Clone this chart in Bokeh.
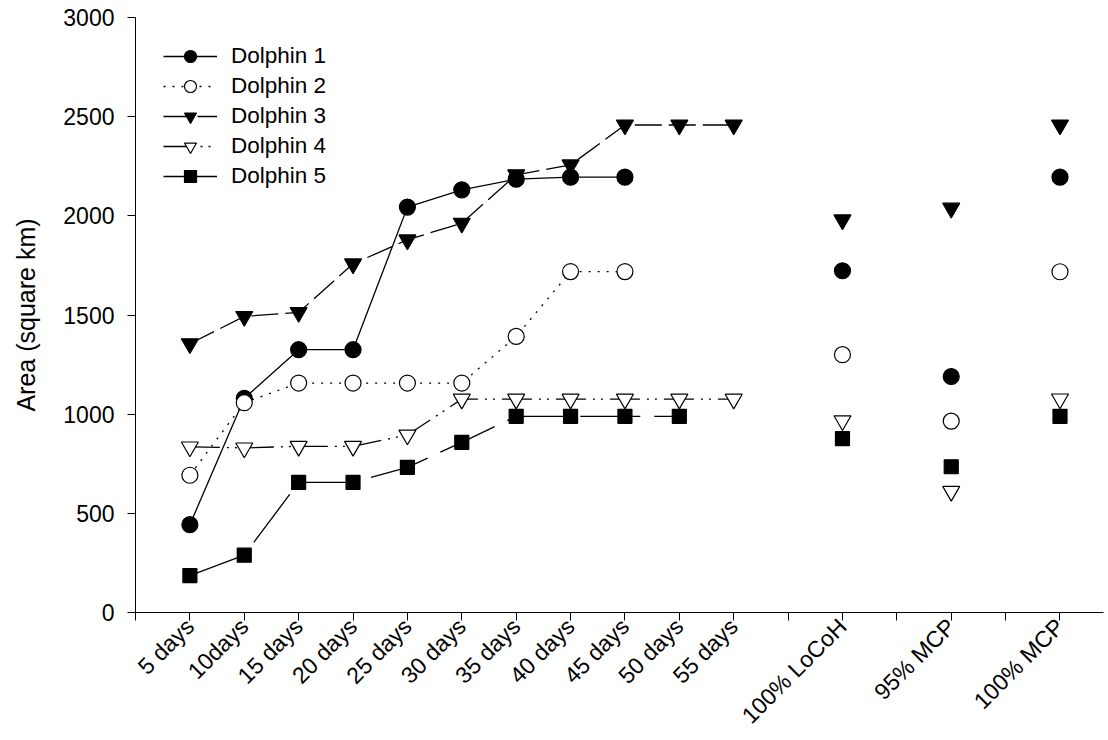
from bokeh.plotting import figure
from bokeh.models import Range1d, FixedTicker, Legend, LegendItem
from bokeh.embed import file_html
from bokeh.resources import INLINE

# ---- data ----
time_labels = ["5 days", "10days", "15 days", "20 days", "25 days", "30 days",
               "35 days", "40 days", "45 days", "50 days", "55 days"]
summary_labels = ["100% LoCoH", "95% MCP", "100% MCP"]

d1_time = [443, 1080, 1325, 1325, 2044, 2131, 2185, 2195, 2195]
d2_time = [692, 1058, 1157, 1157, 1157, 1157, 1392, 1719, 1719]
d3_time = [1355, 1493, 1513, 1758, 1879, 1963, 2207, 2257, 2458, 2458, 2458]
d4_time = [835, 830, 838, 838, 895, 1076, 1076, 1076, 1076, 1076, 1076]
d5_time = [186, 289, 656, 656, 732, 858, 989, 989, 989, 989]

d1_summary = [1723, 1190, 2195]
d2_summary = [1300, 965, 1718]
d3_summary = [1980, 2039, 2458]
d4_summary = [967, 611, 1077]
d5_summary = [877, 735, 989]

names = ["Dolphin 1", "Dolphin 2", "Dolphin 3", "Dolphin 4", "Dolphin 5"]
y_ticks = [0, 500, 1000, 1500, 2000, 2500, 3000]

# category positions: time points 0..10, summaries at 12, 14, 16
n_time = len(time_labels)
time_pos = list(range(n_time))
summary_pos = [n_time + 1 + 2 * j for j in range(len(summary_labels))]

FONT = "Liberation Sans"

p = figure(width=1106, height=740, output_backend="svg", toolbar_location=None,
           x_range=Range1d(-1, 16.8), y_range=Range1d(0, 3000),
           min_border_left=135, min_border_right=3, min_border_top=17,
           min_border_bottom=110)
p.outline_line_color = None
p.grid.visible = False
p.background_fill_color = "white"

# axes
all_ticks = list(range(-1, summary_pos[-1] + 1))
overrides = {}
for t in all_ticks:
    overrides[t] = ""
for i, lab in zip(time_pos, time_labels):
    overrides[i] = lab
for i, lab in zip(summary_pos, summary_labels):
    overrides[i] = lab
p.xaxis.ticker = FixedTicker(ticks=all_ticks)
p.xaxis.major_label_overrides = overrides
p.xaxis.major_label_orientation = 0.785398
p.yaxis.ticker = FixedTicker(ticks=y_ticks)
for ax in (p.xaxis, p.yaxis):
    ax.major_tick_in = 0
    ax.major_tick_out = 8
    ax.minor_tick_line_color = None
    ax.axis_line_color = "black"
    ax.major_tick_line_color = "black"
    ax.major_label_text_font = FONT
    ax.major_label_text_font_size = "23px"
    ax.major_label_text_color = "black"
p.xaxis.major_label_standoff = 2
p.yaxis.major_label_standoff = 13
p.yaxis.axis_label = "Area (square km)"
p.yaxis.axis_label_text_font = FONT
p.yaxis.axis_label_text_font_size = "25px"
p.yaxis.axis_label_text_font_style = "normal"
p.yaxis.axis_label_text_color = "black"
p.yaxis.axis_label_standoff = 20

series = [
    (d1_time, d1_summary, "circle", 16, "black", "solid"),
    (d2_time, d2_summary, "circle", 16, "white", "2 7"),
    (d3_time, d3_summary, "inverted_triangle", 17, "black", "27 7"),
    (d4_time, d4_summary, "inverted_triangle", 17, "white", "30 7 2 6 2 7"),
    (d5_time, d5_summary, "square", 14, "black", "60 14"),
]

items = []
for name, (tv, sv, marker, size, fill, dash) in zip(names, series):
    xs = time_pos[:len(tv)]
    lr = p.line(xs, tv, line_color="black", line_width=1.3, line_dash=dash)
    sr = p.scatter(xs, tv, marker=marker, size=size, fill_color=fill,
                   line_color="black", line_width=1.2)
    p.scatter(summary_pos, sv, marker=marker, size=size, fill_color=fill,
              line_color="black", line_width=1.2)
    items.append(LegendItem(label=name, renderers=[lr, sr]))

legend = Legend(items=items, location=(28, 421))
legend.border_line_color = None
legend.background_fill_alpha = 0
legend.label_text_font = FONT
legend.label_text_font_size = "22.5px"
legend.label_text_color = "black"
legend.glyph_width = 54
legend.glyph_height = 30
legend.label_height = 30
legend.spacing = 0
legend.padding = 0
legend.margin = 0
legend.label_standoff = 14
p.add_layout(legend, "center")

open("out.html", "w").write(file_html(p, INLINE))
